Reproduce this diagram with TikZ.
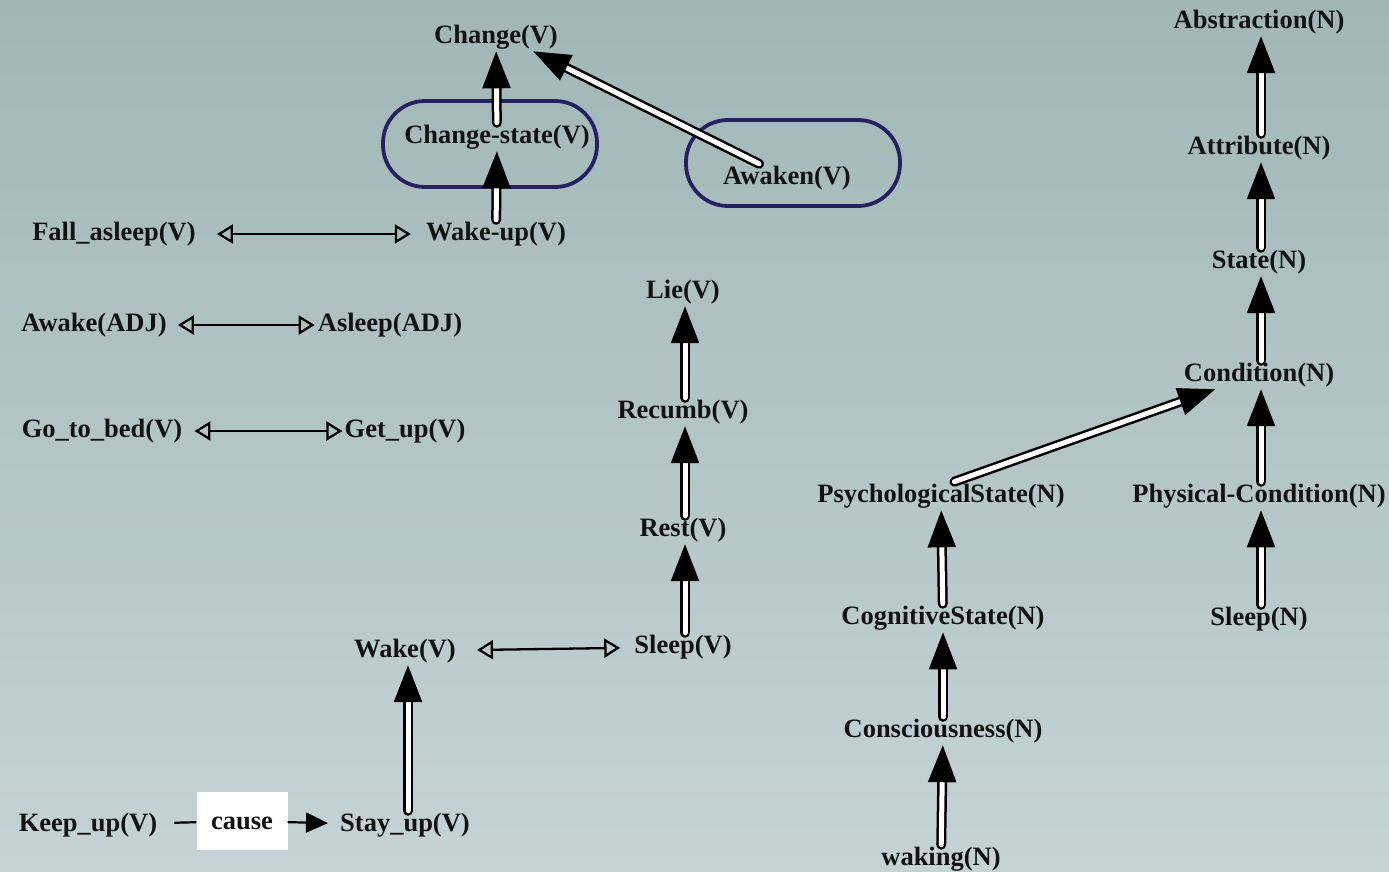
\documentclass[tikz,border=0pt]{standalone}
\usepackage{fontspec}
\setmainfont{Liberation Serif}
\usetikzlibrary{arrows.meta}

\definecolor{bgtop}{RGB}{162,182,182}
\definecolor{bgbot}{RGB}{197,211,213}
\definecolor{boxblue}{RGB}{38,34,98}
\definecolor{inkblack}{RGB}{18,18,18}

\tikzset{
  word/.style={font=\fontsize{26.5}{30}\selectfont\bfseries, text=inkblack, inner sep=2pt},
  isa/.style={draw=black, line width=2.5pt, double=white, double distance=5pt, line cap=round,
    -{Triangle[length=37pt,width=28pt]}},
  anto/.style={draw=black, line width=2.3pt,
    {Triangle[open,length=16pt,width=19pt]}-{Triangle[open,length=16pt,width=19pt]}},
  groupbox/.style={draw=boxblue, line width=3.8pt, rounded corners=42pt,
    minimum width=214pt, minimum height=86pt},
  causebox/.style={fill=white, minimum width=91pt, minimum height=58pt, inner sep=0pt,
    text height=20pt, text depth=3pt},
  causeline/.style={draw=black, line width=2.2pt},
}

\begin{document}
\begin{tikzpicture}[x=1pt, y=-1pt]
        \fill[top color=bgtop, bottom color=bgbot] (0,0) rectangle (1389,871);
        \useasboundingbox (0,0) rectangle (1389,871);

        % boxes round the verbs
        \node[groupbox] (csbox) at (490,144) {};
        \node[groupbox] (awbox) at (793,163) {};

        % verbs, upper part
        \node[word] (change) at (496,37) {Change(V)};
        \node[word] (cstate) at (497,137) {Change-state(V)};
        \node[word] (awaken) at (787,178) {Awaken(V)};
        \node[word] (wakeup) at (496,234) {Wake-up(V)};
        \node[word] (fallasleep) at (114,234) {Fall\_asleep(V)};
        \node[word] (awake) at (94,325) {Awake(ADJ)};
        \node[word] (asleep) at (390,325) {Asleep(ADJ)};
        \node[word] (gotobed) at (102,431) {Go\_to\_bed(V)};
        \node[word] (getup) at (405,431) {Get\_up(V)};

        % verbs, middle and lower part
        \node[word] (lie) at (683,292) {Lie(V)};
        \node[word] (recumb) at (683,412) {Recumb(V)};
        \node[word] (rest) at (683,530) {Rest(V)};
        \node[word] (sleepv) at (683,647) {Sleep(V)};
        \node[word] (wake) at (405,651) {Wake(V)};
        \node[word] (stayup) at (405,825) {Stay\_up(V)};
        \node[word] (keepup) at (88,825) {Keep\_up(V)};
        \node[word, causebox] (cause) at (242,821) {cause};

        % nouns
        \node[word] (abstr) at (1259,22) {Abstraction(N)};
        \node[word] (attr) at (1259,148) {Attribute(N)};
        \node[word] (state) at (1259,262) {State(N)};
        \node[word] (cond) at (1259,375) {Condition(N)};
        \node[word] (physcond) at (1259,496) {Physical-Condition(N)};
        \node[word] (sleepn) at (1259,619) {Sleep(N)};
        \node[word] (psych) at (941,496) {PsychologicalState(N)};
        \node[word] (cogn) at (943,618) {CognitiveState(N)};
        \node[word] (consc) at (943,731) {Consciousness(N)};
        \node[word] (waking) at (941,859) {waking(N)};

        % hypernym links
        \draw[isa] (cstate) -- (change);
        \draw[isa] (wakeup) -- (cstate);
        \draw[isa] (awaken.153) -- (change.-21);
        \draw[isa] ([xshift=2pt]recumb.north) -- ([xshift=2pt]lie.south);
        \draw[isa] ([xshift=2pt]rest.north) -- ([xshift=2pt]recumb.south);
        \draw[isa] ([xshift=2pt]sleepv.north) -- ([xshift=2pt]rest.south);
        \draw[isa] ([xshift=3pt]stayup.north) -- ([xshift=3pt]wake.south);
        \draw[isa] ([xshift=2pt]attr.north) -- ([xshift=2pt]abstr.south);
        \draw[isa] ([xshift=2pt]state.north) -- ([xshift=2pt]attr.south);
        \draw[isa] ([xshift=2pt]cond.north) -- ([xshift=2pt]state.south);
        \draw[isa] ([xshift=2pt]physcond.north) -- ([xshift=2pt]cond.south);
        \draw[isa] ([xshift=2pt]sleepn.north) -- ([xshift=2pt]physcond.south);
        \draw[isa] (psych.47) -- (cond.-162);
        \draw[isa] (cogn) -- (psych);
        \draw[isa] (consc) -- (cogn);
        \draw[isa] (waking) -- (consc);

        % antonyms
        \draw[anto, shorten <=19pt, shorten >=13pt] (fallasleep) -- (wakeup);
        \draw[anto, shorten <=9pt, shorten >=1pt] (awake) -- (asleep);
        \draw[anto, shorten <=10pt] (gotobed) -- (getup);
        \draw[anto, shorten <=19pt, shorten >=12pt] (wake) -- (sleepv);

        % cause
        \draw[causeline, shorten <=15pt] (keepup) -- (cause);
        \draw[causeline, -{Triangle[length=22pt,width=20pt]}, shorten >=10pt] (cause) -- (stayup);
    \end{tikzpicture}
\end{document}
